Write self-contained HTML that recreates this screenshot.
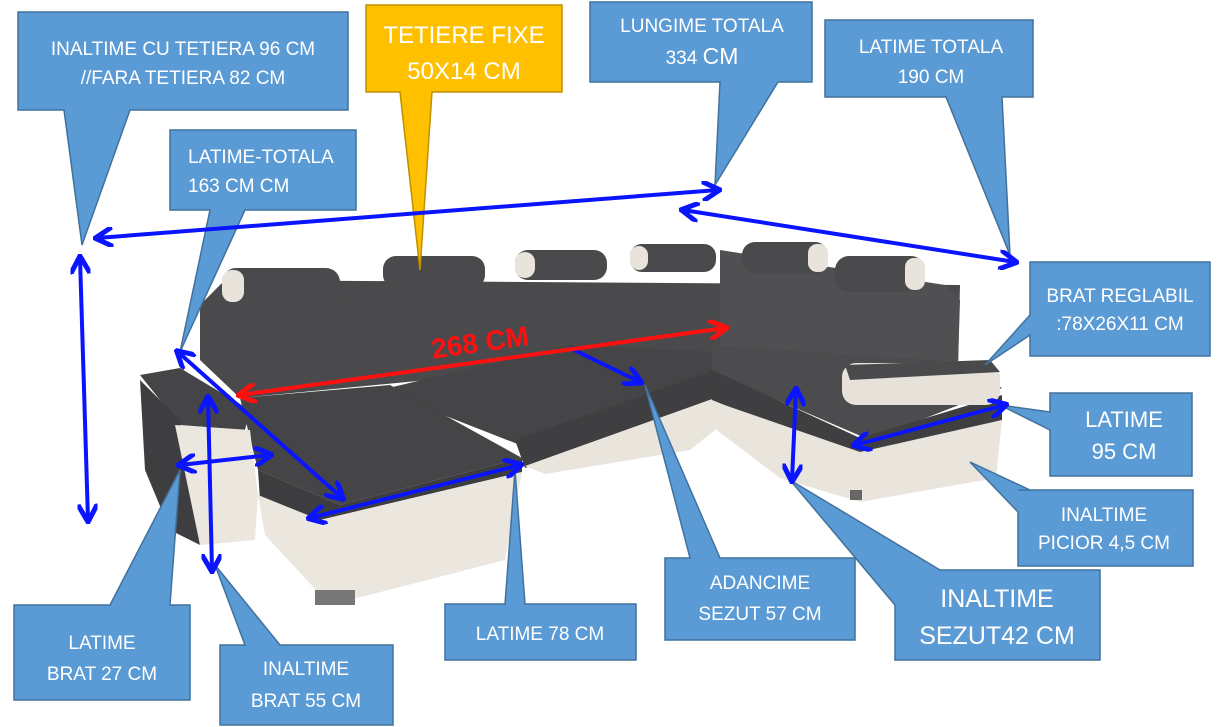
<!DOCTYPE html><html><head><meta charset="utf-8"><style>
html,body{margin:0;padding:0;background:#fff;}
svg{display:block}
text{font-family:"Liberation Sans",sans-serif;fill:#fff}
</style></head><body>
<svg width="1229" height="727" viewBox="0 0 1229 727" xmlns="http://www.w3.org/2000/svg">
<defs>
<marker id="ab" viewBox="0 0 10 10" refX="8" refY="5" markerWidth="5" markerHeight="5" orient="auto-start-reverse"><path d="M0,0 L9,5 L0,10" fill="none" stroke="#0a14ff" stroke-width="2.5"/></marker>
<marker id="ar" viewBox="0 0 10 10" refX="8" refY="5" markerWidth="5" markerHeight="5" orient="auto-start-reverse"><path d="M0,0 L9,5 L0,10" fill="none" stroke="#ff1010" stroke-width="2.5"/></marker>
</defs>
<!-- sofa -->
<g>
<polygon points="200,305 225,280 960,285 958,365 720,352 240,398 200,360" fill="#4a4a4c"/>
<polygon points="720,250 945,285 960,300 958,365 720,350" fill="#505052"/>
<rect x="222" y="268" width="118" height="36" rx="14" fill="#4a4a4c"/><rect x="222" y="270" width="22" height="32" rx="10" fill="#e8e4dc"/>
<rect x="383" y="256" width="102" height="32" rx="13" fill="#4a4a4c"/>
<rect x="515" y="250" width="92" height="30" rx="13" fill="#4a4a4c"/><rect x="515" y="252" width="20" height="26" rx="10" fill="#e8e4dc"/>
<rect x="630" y="244" width="86" height="28" rx="12" fill="#4a4a4c"/><rect x="630" y="246" width="18" height="24" rx="9" fill="#e8e4dc"/>
<rect x="742" y="242" width="86" height="32" rx="13" fill="#4a4a4c"/><rect x="808" y="244" width="20" height="28" rx="9" fill="#e8e4dc"/>
<rect x="835" y="256" width="90" height="36" rx="14" fill="#4a4a4c"/><rect x="905" y="258" width="20" height="32" rx="9" fill="#e8e4dc"/>
<polygon points="380,390 570,345 715,352 715,372 520,445 400,398" fill="#454547"/>
<polygon points="515,440 715,370 715,400 525,468" fill="#3f3f41"/>
<polygon points="525,466 715,398 715,430 690,450 545,474" fill="#e9e5dd"/>
<polygon points="712,345 960,362 1002,388 870,440 712,372" fill="#4c4c4e"/>
<polygon points="708,368 860,438 1002,395 1002,420 860,460 712,400" fill="#3f3f41"/>
<polygon points="710,400 860,452 1002,420 996,478 860,502 780,478 710,425" fill="#e9e5dd"/>
<rect x="842" y="363" width="158" height="42" rx="14" fill="#e6e2da"/>
<polygon points="845,365 990,360 1000,372 850,380" fill="#4a4a4c"/>
<polygon points="240,398 390,385 522,458 340,505 258,470" fill="#454547"/>
<polygon points="258,470 340,505 522,458 522,472 320,520 260,500" fill="#3d3d3f"/>
<polygon points="258,495 320,520 522,472 505,560 330,605 265,535" fill="#ebe7df"/>
<polygon points="140,375 180,368 250,410 245,430 180,425" fill="#454547"/>
<polygon points="140,380 180,420 200,545 170,530 145,470" fill="#3e3e40"/>
<polygon points="175,425 250,430 258,495 255,540 200,545" fill="#ebe7df"/>
<rect x="315" y="590" width="40" height="15" fill="#777"/>
<rect x="850" y="490" width="12" height="10" fill="#666"/>
</g>
<!-- callouts -->
<g fill="#5b9bd5" stroke="#41719c" stroke-width="1.5">
<polygon points="18,12 348,12 348,110 130,110 82,245 64,110 18,110"/>
<polygon points="590,2 812,2 812,82 778,82 715,185 720,82 590,82"/>
<polygon points="825,20 1033,20 1033,97 1002,97 1010,255 946,97 825,97"/>
<polygon points="170,130 356,130 356,210 245,210 180,352 210,210 170,210"/>
<polygon points="1030,262 1210,262 1210,356 1030,356 1030,335 985,365 1030,315"/>
<polygon points="1050,393 1192,393 1192,476 1050,476 1050,430 1000,405 1050,412"/>
<polygon points="1018,490 1193,490 1193,566 1018,566 1018,512 970,462 1030,490"/>
<polygon points="940,570 1100,570 1100,660 895,660 895,605 790,480"/>
<polygon points="665,558 690,558 645,385 720,558 855,558 855,640 665,640"/>
<polygon points="445,604 505,604 515,470 525,604 636,604 636,660 445,660"/>
<polygon points="14,605 110,605 180,470 170,605 190,605 190,700 14,700"/>
<polygon points="220,645 245,645 215,565 280,645 393,645 393,725 220,725"/>
</g>
<polygon points="366,5 562,5 562,92 432,92 420,270 400,92 366,92" fill="#ffc000" stroke="#bf9000" stroke-width="1.5"/>
<!-- arrows -->
<g stroke="#0a14ff" stroke-width="4" fill="none" marker-start="url(#ab)" marker-end="url(#ab)">
<line x1="97" y1="238" x2="718" y2="190"/>
<line x1="683" y1="210" x2="1015" y2="262"/>
<line x1="80" y1="258" x2="88" y2="520"/>
<line x1="178" y1="352" x2="342" y2="498"/>
<line x1="310" y1="518" x2="520" y2="465"/>
<line x1="180" y1="465" x2="270" y2="455"/>
<line x1="208" y1="398" x2="212" y2="570"/>
<line x1="796" y1="390" x2="792" y2="480"/>
<line x1="855" y1="445" x2="1005" y2="405"/>
</g>
<line x1="570" y1="348" x2="640" y2="382" stroke="#0a14ff" stroke-width="4" marker-end="url(#ab)"/>
<line x1="240" y1="395" x2="725" y2="328" stroke="#ff1010" stroke-width="4" marker-start="url(#ar)" marker-end="url(#ar)"/>
<text x="480" y="352" font-size="28" font-weight="bold" style="fill:#ff1010" transform="rotate(-8 480 342)" text-anchor="middle">268 CM</text>
<!-- labels -->
<g font-size="19" text-anchor="middle">
<text x="183" y="55">INALTIME CU TETIERA 96 CM</text>
<text x="183" y="84">//FARA TETIERA 82 CM</text>
<text x="464" y="43" font-size="24">TETIERE FIXE</text>
<text x="464" y="79" font-size="24">50X14 CM</text>
<text x="702" y="32">LUNGIME TOTALA</text>
<text x="702" y="64">334 <tspan font-size="23">CM</tspan></text>
<text x="931" y="53">LATIME TOTALA</text>
<text x="931" y="83">190 CM</text>
<text x="188" y="163" text-anchor="start">LATIME-TOTALA</text>
<text x="188" y="192" text-anchor="start">163 CM CM</text>
<text x="1120" y="302">BRAT REGLABIL</text>
<text x="1120" y="330">:78X26X11 CM</text>
<text x="1124" y="427" font-size="22">LATIME</text>
<text x="1124" y="459" font-size="22">95 CM</text>
<text x="1104" y="521">INALTIME</text>
<text x="1104" y="549">PICIOR 4,5 CM</text>
<text x="997" y="607" font-size="25">INALTIME</text>
<text x="997" y="644" font-size="25">SEZUT42 CM</text>
<text x="760" y="589">ADANCIME</text>
<text x="760" y="620">SEZUT 57 CM</text>
<text x="540" y="640">LATIME 78 CM</text>
<text x="102" y="649">LATIME</text>
<text x="102" y="680">BRAT 27 CM</text>
<text x="306" y="675">INALTIME</text>
<text x="306" y="707">BRAT 55 CM</text>
</g>
</svg>
</body></html>
